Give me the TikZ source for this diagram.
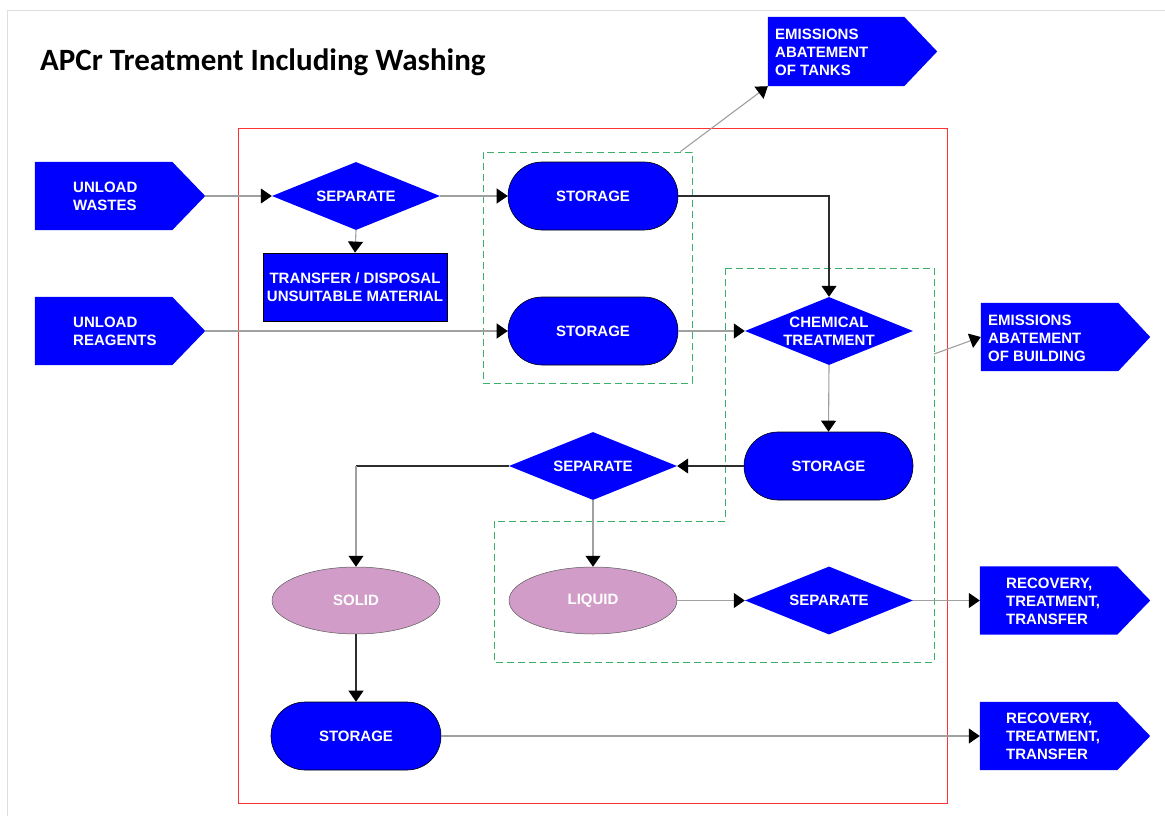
\documentclass[tikz,border=0pt]{standalone}
\usepackage{fontspec}
\setmainfont{Liberation Sans}
\newfontfamily\titlefont{Carlito}
\usetikzlibrary{shapes.geometric,arrows.meta,calc}
\pgfdeclarelayer{bg}
\pgfsetlayers{bg,main}
\definecolor{boxblue}{RGB}{0,0,255}
\definecolor{phase}{RGB}{209,157,200}
\definecolor{zone}{RGB}{60,175,105}
\definecolor{frame}{RGB}{255,50,50}
\definecolor{lnlight}{RGB}{160,160,160}
\definecolor{lndark}{RGB}{45,45,45}
% filled pentagon arrow behind an io node (pointer on the east side)
\newcommand\pentfill[2]{\fill[boxblue] (#1.north west) -- ([xshift=-#2]#1.north east) -- (#1.east) -- ([xshift=-#2]#1.south east) -- (#1.south west) -- cycle;}
\begin{document}
\begin{tikzpicture}[x=1pt,y=-1pt,
  font=\fontsize{15}{18}\selectfont\bfseries,
  iobox/.style={rectangle, inner sep=0pt, minimum height=68pt},
  iotext/.style={anchor=west, inner sep=0pt, align=left, text=white},
  storebox/.style={rectangle, rounded corners=33.9pt, fill=boxblue, draw=black, line width=0.6pt, minimum width=170pt, minimum height=68pt, text=white},
  decide/.style={diamond, fill=boxblue, aspect=2.47, inner sep=0pt, minimum width=168pt, minimum height=68pt, text=white, align=center},
  phasebox/.style={ellipse, fill=phase, draw=black!65, line width=0.5pt, minimum width=168pt, minimum height=67pt, text=white},
  actbox/.style={rectangle, fill=boxblue, draw=black, line width=0.8pt, minimum width=184pt, minimum height=68pt, text=white, align=center, inner sep=0pt},
  zonebox/.style={draw=zone, line width=0.9pt, dash pattern=on 7pt off 4pt},
  tip/.style={-{Triangle[length=11pt,width=15pt,color=black]}},
  light/.style={draw=lnlight, line width=1.1pt, tip},
  dark/.style={draw=lndark, line width=1.1pt, tip},
  darkplain/.style={draw=lndark, line width=1.1pt}
]
\useasboundingbox (0,0) rectangle (1165,816);

% page frame
\draw[black!13, line width=1pt] (7,816) -- (7,11) -- (1165,11);

% title
\node[anchor=base west, inner sep=0pt, text=black, font=\titlefont\fontsize{31}{36}\selectfont\bfseries] (title) at (40,70.5) {APCr Treatment Including Washing};

% installation boundary
\draw[frame, line width=1pt] (238,128) rectangle (947,803);

% contained zones
\node[zonebox, rectangle, minimum width=209pt, minimum height=231pt, inner sep=0pt] (g1) at (587.5,267.5) {};
\draw[zonebox] (725,268) -- (934,268) -- (934,662) -- (494,662) -- (494,521) -- (725,521) -- cycle;
\coordinate (g1top) at ([xshift=-12pt]g1.north east);
\coordinate (g2side) at (934,354);

% inputs and outputs
\node[iobox, minimum width=170pt] (uw) at (120,196) {};
\node[iobox, minimum width=170pt] (ur) at (120,331) {};
\node[iobox, minimum width=169pt, minimum height=69pt] (et) at (852.5,51.5) {};
\node[iobox, minimum width=169pt] (eb) at (1065.5,337) {};
\node[iobox, minimum width=170pt] (r1) at (1065,600.5) {};
\node[iobox, minimum width=170pt] (r2) at (1065,736) {};
\begin{pgfonlayer}{bg}
\pentfill{uw}{33pt}
\pentfill{ur}{33pt}
\pentfill{et}{33pt}
\pentfill{eb}{32pt}
\pentfill{r1}{33pt}
\pentfill{r2}{33pt}
\end{pgfonlayer}
\node[iotext] (uw-t) at (73,196) {UNLOAD\\WASTES};
\node[iotext] (ur-t) at (73,331) {UNLOAD\\REAGENTS};
\node[iotext] (et-t) at (775,52) {EMISSIONS\\ABATEMENT\\OF TANKS};
\node[iotext] (eb-t) at (988,338) {EMISSIONS\\ABATEMENT\\OF BUILDING};
\node[iotext] (r1-t) at (1006,601) {RECOVERY,\\TREATMENT,\\TRANSFER};
\node[iotext] (r2-t) at (1006,736) {RECOVERY,\\TREATMENT,\\TRANSFER};

% process steps
\node[decide] (sep1) at (356,196) {SEPARATE};
\node[actbox] (tr) at (355,287) {TRANSFER / DISPOSAL\\UNSUITABLE MATERIAL};
\node[storebox] (st1) at (593,196) {STORAGE};
\node[storebox] (st2) at (593,331) {STORAGE};
\node[decide] (chem) at (829,331) {CHEMICAL\\TREATMENT};
\node[storebox, minimum width=169pt] (st3) at (828.5,466) {STORAGE};
\node[decide] (sep2) at (593,466) {SEPARATE};
\node[phasebox] (solid) at (356,600.5) {SOLID};
\node[phasebox] (liquid) at (593,600.5) {LIQUID};
\node[decide] (sep3) at (829,600.5) {SEPARATE};
\node[storebox] (st4) at (356,736) {STORAGE};

% flows
\draw[light] (uw.east) -- (sep1.west);
\draw[light] (sep1.south) -- (tr.north);
\draw[light] (sep1.east) -- (st1.west);
\draw[light] (ur.east) -- (st2.west);
\draw[dark] (st1.east) -| (chem.north);
\draw[light] (st2.east) -- (chem.west);
\draw[light] (chem.south) -- (st3.north);
\draw[dark] (st3.west) -- (sep2.east);
\coordinate (bend) at (sep2.west -| solid.north);
\draw[darkplain] (sep2.west) -- (bend);
\draw[light] (bend) -- (solid.north);
\draw[light] (sep2.south) -- (liquid.north);
\draw[light] (liquid.east) -- (sep3.west);
\draw[light] (sep3.east) -- (r1.west);
\draw[dark] (solid.south) -- (st4.north);
\draw[light] (st4.east) -- (r2.west);
\draw[light] (g1top) -- (et.south west);
\draw[light] (g2side) -- (eb.west);
\end{tikzpicture}
\end{document}
